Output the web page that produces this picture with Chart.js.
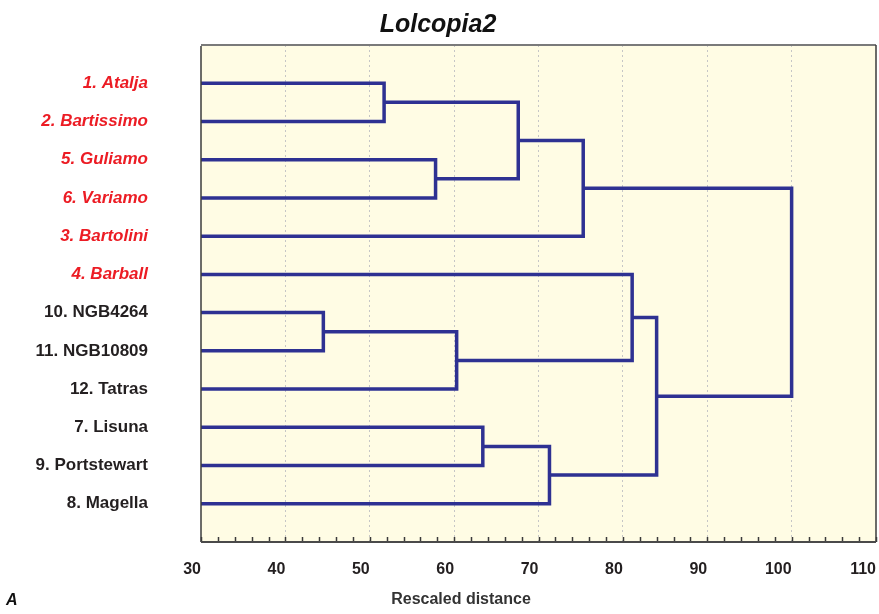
<!DOCTYPE html>
<html>
<head>
<meta charset="utf-8">
<title>Lolcopia2</title>
<script src="https://cdn.jsdelivr.net/npm/chart.js@4.4.1/dist/chart.umd.min.js"></script>
<style>
    html, body { margin: 0; padding: 0; background: #ffffff; }
    #wrap { width: 879px; height: 614px; position: relative; }
</style>
</head>
<body>
<div id="wrap"><canvas id="dendro"></canvas></div>
<script>
// folhas na ordem em que aparecem de cima para baixo
const leafNames = [
    "1. Atalja", "2. Bartissimo", "5. Guliamo", "6. Variamo", "3. Bartolini",
    "4. Barball", "10. NGB4264", "11. NGB10809", "12. Tatras",
    "7. Lisuna", "9. Portstewart", "8. Magella"
];
// as seis primeiras em vermelho
const redLeaves = 6;

// agrupamentos: nós 0..11 são folhas, 12.. são as junções na ordem abaixo
const mergeLeft  = [0, 2, 12, 14, 6, 16, 5, 9, 19, 18, 15];
const mergeRight = [1, 3, 13, 4, 7, 8, 17, 10, 11, 20, 21];
const mergeDist  = [51.7, 57.8, 67.6, 75.3, 44.5, 60.3, 81.1, 63.4, 71.3, 84.0, 100.0];

const xTicks = [30, 40, 50, 60, 70, 80, 90, 100, 110];

const LINE_COLOR = "#2e3192";
const RED = "#ec1c24";
const DARK = "#231f20";

document.addEventListener("DOMContentLoaded", function () {
    // posição (x = distância, y = índice) de cada nó
    const nodeX = leafNames.map(() => xTicks[0]);
    const nodeY = leafNames.map((_, i) => i + 1);
    mergeLeft.forEach((a, k) => {
        const b = mergeRight[k];
        nodeX.push(mergeDist[k]);
        nodeY.push((nodeY[a] + nodeY[b]) / 2);
    });

    // cada junção vira um "colchete" de quatro pontos
    const datasets = mergeLeft.map((a, k) => {
        const b = mergeRight[k];
        const d = mergeDist[k];
        return {
            data: [
                { x: nodeX[a], y: nodeY[a] },
                { x: d, y: nodeY[a] },
                { x: d, y: nodeY[b] },
                { x: nodeX[b], y: nodeY[b] },
            ],
            showLine: true,
            borderColor: LINE_COLOR,
            borderWidth: 3.5,
            borderJoinStyle: "miter",
            pointRadius: 0,
            fill: false,
        };
    });

    // fundo, moldura, marcas menores e textos extras
    const frame = {
        id: "frame",
        beforeDraw(chart) {
            const { ctx, chartArea: a } = chart;
            ctx.save();
            ctx.fillStyle = "#fffce4";
            ctx.fillRect(a.left, a.top, a.right - a.left, a.bottom - a.top);
            ctx.restore();
        },
        afterDatasetsDraw(chart) {
            const { ctx, chartArea: a } = chart;
            const xs = chart.scales.x;
            ctx.save();
            // marcas a cada 2 unidades, para dentro
            ctx.strokeStyle = "#3a3a3a";
            ctx.lineWidth = 1.5;
            for (let v = xTicks[0]; v <= xTicks[xTicks.length - 1]; v += 2) {
                const px = Math.round(xs.getPixelForValue(v)) + 0.5;
                ctx.beginPath();
                ctx.moveTo(px, a.bottom);
                ctx.lineTo(px, a.bottom - 5);
                ctx.stroke();
            }
            // moldura
            ctx.strokeStyle = "#7a7a7a";
            ctx.lineWidth = 2;
            ctx.beginPath();
            ctx.moveTo(a.left, a.top);
            ctx.lineTo(a.right, a.top);
            ctx.stroke();
            ctx.strokeStyle = "#3c3c3c";
            ctx.lineWidth = 1.5;
            ctx.beginPath();
            ctx.moveTo(a.left, a.top + 1);
            ctx.lineTo(a.left, a.bottom);
            ctx.moveTo(a.right, a.top);
            ctx.lineTo(a.right, a.bottom);
            ctx.stroke();
            ctx.strokeStyle = "#4a4a4a";
            ctx.lineWidth = 2;
            ctx.beginPath();
            ctx.moveTo(a.left, a.bottom);
            ctx.lineTo(a.right, a.bottom);
            ctx.stroke();
            ctx.restore();
        },
        afterDraw(chart) {
            const { ctx } = chart;
            ctx.save();
            ctx.fillStyle = "#333333";
            ctx.textBaseline = "middle";
            ctx.textAlign = "center";
            ctx.font = "bold 16px 'Liberation Sans', Arial, sans-serif";
            ctx.fillText("Rescaled distance", 461, 600);
            ctx.textAlign = "left";
            ctx.fillStyle = "#111111";
            ctx.font = "italic bold 16px 'Liberation Sans', Arial, sans-serif";
            ctx.fillText("A", 6, 601);
            ctx.restore();
        },
    };

    new Chart(document.getElementById("dendro"), {
        type: "scatter",
        data: { datasets },
        options: {
            responsive: true,
            maintainAspectRatio: false,
            animation: false,
            layout: { padding: { left: 0, right: 3, top: 0, bottom: 0 } },
            plugins: {
                legend: { display: false },
                tooltip: { enabled: false },
                title: {
                    display: true,
                    text: "Lolcopia2",
                    color: "#111111",
                    font: { family: "'Liberation Sans', Arial, sans-serif", size: 25, style: "italic", weight: "bold" },
                    padding: { top: 10, bottom: 5 },
                },
            },
            scales: {
                x: {
                    type: "linear",
                    min: xTicks[0],
                    max: xTicks[xTicks.length - 1],
                    afterBuildTicks: (s) => { s.ticks = xTicks.map((v) => ({ value: v })); },
                    afterFit: (s) => {
                        s.height = 72;
                        s.paddingLeft = 0;
                        s.paddingRight = 0;
                    },
                    grid: {
                        drawTicks: false,
                        color: (c) => (c.tick && (c.tick.value === xTicks[0] || c.tick.value === xTicks[xTicks.length - 1]))
                            ? "rgba(0,0,0,0)" : "#c6c6c6",
                        lineWidth: 1,
                    },
                    border: { display: false, dash: [2, 3] },
                    ticks: {
                        padding: 18,
                        align: "end",
                        color: DARK,
                        font: { family: "'Liberation Sans', Arial, sans-serif", size: 16, weight: "bold" },
                    },
                },
                y: {
                    type: "linear",
                    reverse: true,
                    min: 0,
                    max: leafNames.length + 1,
                    afterBuildTicks: (s) => { s.ticks = leafNames.map((_, i) => ({ value: i + 1 })); },
                    afterFit: (s) => {
                        s.width = 201;
                        s.paddingTop = 0;
                        s.paddingBottom = 0;
                    },
                    grid: { display: false, drawTicks: false },
                    border: { display: false },
                    ticks: {
                        padding: 53,
                        autoSkip: false,
                        callback: (v) => leafNames[v - 1] || "",
                        color: (c) => (c.index < redLeaves ? RED : DARK),
                        font: (c) => ({
                            family: "'Liberation Sans', Arial, sans-serif",
                            size: 17,
                            weight: "bold",
                            style: c.index < redLeaves ? "italic" : "normal",
                        }),
                    },
                },
            },
        },
        plugins: [frame],
    });
});
</script>
</body>
</html>
